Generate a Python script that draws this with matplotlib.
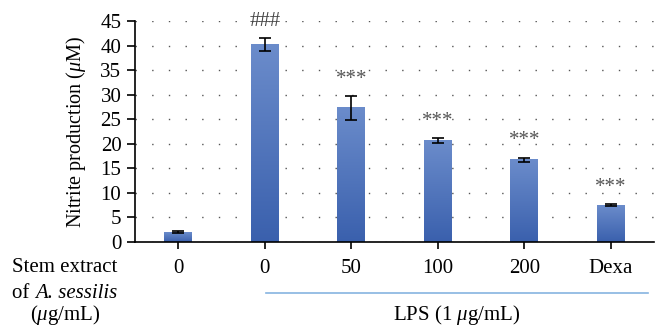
import matplotlib
matplotlib.use("Agg")
import matplotlib.pyplot as plt
import numpy as np
from matplotlib.colors import LinearSegmentedColormap

categories = ["0", "0", "50", "100", "200", "Dexa"]
values = [2.0, 40.2, 27.3, 20.6, 16.7, 7.5]
errors = [0.2, 1.3, 2.4, 0.5, 0.5, 0.15]
marks = ["", "###", "***", "***", "***", "***"]
yticks = [0, 5, 10, 15, 20, 25, 30, 35, 40, 45]

plt.rcParams['font.family'] = ['Liberation Serif', 'DejaVu Serif']
plt.rcParams['mathtext.fontset'] = 'custom'
plt.rcParams['mathtext.it'] = 'Liberation Serif:italic'
plt.rcParams['mathtext.rm'] = 'Liberation Serif'

FS = 15

fig = plt.figure(figsize=(6.55, 3.27), dpi=100)
ax = fig.add_axes([135/655, 1-242/327, 519/655, 221/327])

x = np.arange(len(categories))
width = 0.32
cmap = LinearSegmentedColormap.from_list("g", ["#3a60ad", "#6b8ccb"])
grad = np.linspace(0, 1, 256).reshape(-1, 1)
for xi, v in zip(x, values):
    ax.imshow(grad, extent=(xi - width/2, xi + width/2, 0, v), origin='lower',
              cmap=cmap, aspect='auto', zorder=2)
ax.errorbar(x, values, yerr=errors, fmt='none', ecolor='black', elinewidth=1.2,
            capsize=4, capthick=1.2, zorder=3)

for xi, v, e, m in zip(x, values, errors, marks):
    if m:
        ax.annotate(m, xy=(xi, v + e), xytext=(0, 17), textcoords='offset pixels',
                    ha='center', va='center', fontsize=FS,
                    color='#444444' if m.startswith('#') else '#555555', zorder=4)

ax.set_xlim(-0.5, 5.5)
ax.set_ylim(0, 45)
ax.set_yticks(yticks)
ax.set_xticks(x)
ax.set_xticklabels(categories, fontsize=FS)
ax.tick_params(axis='y', labelsize=FS, length=5.8, width=1.2, direction='out', pad=4)
ax.tick_params(axis='x', length=5, width=1.2, direction='out', pad=7)
ax.yaxis.grid(True, linestyle=(0, (1, 11)), color='#555555', linewidth=1.0)
ax.set_axisbelow(True)
for s in ['top', 'right']:
    ax.spines[s].set_visible(False)
ax.spines['left'].set_linewidth(1.2)
ax.spines['bottom'].set_linewidth(1.2)
ax.set_ylabel(r"Nitrite production ($\mathit{\mu}$M)", fontsize=14.5, labelpad=9)

fig.text(65/655, 1-267/327, "Stem extract", ha='center', va='center', fontsize=FS)
t2 = fig.text(117/655, 1-293/327, "A. sessilis", ha='right', va='center', fontsize=FS, style='italic')
ax.annotate("of ", xy=(0, 0), xycoords=t2, ha='right', va='bottom', fontsize=FS,
            annotation_clip=False)
fig.text(65/655, 1-315/327, "($\\mathit{\\mu}$g/mL)", ha='center', va='center', fontsize=FS)
fig.add_artist(plt.Line2D([266/655, 648/655], [1-293/327, 1-293/327], color='#86b4e0', linewidth=1.2))
fig.text(457/655, 1-315/327, "LPS (1 $\\mathit{\\mu}$g/mL)", ha='center', va='center', fontsize=FS)

fig.savefig("out.png", dpi=100)
